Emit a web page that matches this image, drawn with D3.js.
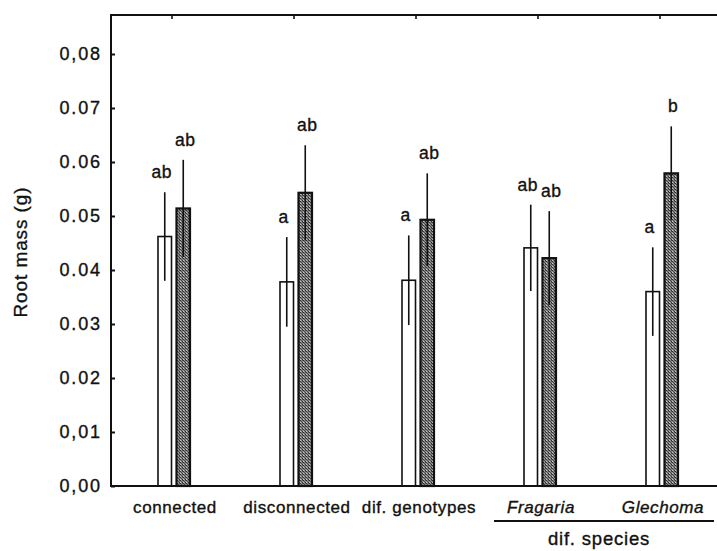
<!DOCTYPE html>
<html>
<head>
<meta charset="utf-8">
<script src="https://cdn.jsdelivr.net/npm/d3@7"></script>
<style>
  html, body { margin: 0; padding: 0; background: #fff; }
  svg { display: block; }
  text { font-family: "Liberation Sans", Arial, Helvetica, sans-serif; fill: #111; stroke: #111; stroke-width: 0.35px; }
</style>
</head>
<body>
<svg id="chart" width="717" height="551"></svg>
<script>
// ---- data ----
const categories = ["connected", "disconnected", "dif. genotypes", "Fragaria", "Glechoma"];
const italicCategories = ["Fragaria", "Glechoma"];
const series = ["white", "grey"];
const whiteMean = [0.0462, 0.0378, 0.0381, 0.0441, 0.0360];
const whiteSE   = [0.0082, 0.0083, 0.0083, 0.0080, 0.0082];
const greyMean  = [0.0514, 0.0543, 0.0493, 0.0422, 0.0579];
const greySE    = [0.0090, 0.0088, 0.0086, 0.0087, 0.0087];
const whiteLetters = ["ab", "a", "a", "ab", "a"];
const greyLetters  = ["ab", "ab", "ab", "ab", "b"];
const yTickValues = [0, 0.01, 0.02, 0.03, 0.04, 0.05, 0.06, 0.07, 0.08];
const yTickLabels = ["0,00", "0,01", "0.02", "0.03", "0.04", "0.05", "0.06", "0.07", "0,08"];
const groupLabel = "dif. species";
const groupMembers = ["Fragaria", "Glechoma"];
const yTitle = "Root mass (g)";

// ---- layout ----
const svg = d3.select("#chart");
const plotLeft = 111, plotTop = 15, plotBottom = 486;
const x = d3.scaleBand().domain(categories).range([113, 723]).padding(0);
const x1 = d3.scaleBand().domain(series).range([-16, 16]).paddingInner(0.27);
const y = d3.scaleLinear().domain([0, 0.08]).range([plotBottom, 54]);

// pattern for stippled grey bars
const defs = svg.append("defs");
const pat = defs.append("pattern").attr("id", "stipple")
  .attr("patternUnits", "userSpaceOnUse").attr("width", 3).attr("height", 3);
pat.append("rect").attr("width", 3).attr("height", 3).attr("fill", "#8e8e8e");
pat.append("rect").attr("x", 0).attr("y", 0).attr("width", 1).attr("height", 1).attr("fill", "#2e2e2e");
pat.append("rect").attr("x", 1).attr("y", 1).attr("width", 1).attr("height", 1).attr("fill", "#4a4a4a");
pat.append("rect").attr("x", 2).attr("y", 2).attr("width", 1).attr("height", 1).attr("fill", "#2e2e2e");
pat.append("rect").attr("x", 2).attr("y", 0).attr("width", 1).attr("height", 1).attr("fill", "#5a5a5a");
pat.append("rect").attr("x", 0).attr("y", 2).attr("width", 1).attr("height", 1).attr("fill", "#c4c4c4");

const rows = categories.map((c, i) => ([
  {cat: c, s: "white", m: whiteMean[i], se: whiteSE[i], letter: whiteLetters[i]},
  {cat: c, s: "grey", m: greyMean[i], se: greySE[i], letter: greyLetters[i]}
])).flat();

const cx = d => x(d.cat) + x.bandwidth() / 2 + x1(d.s);

// bars
svg.append("g").selectAll("rect").data(rows).join("rect")
  .attr("x", d => cx(d))
  .attr("y", d => y(d.m))
  .attr("width", x1.bandwidth())
  .attr("height", d => y(0) - y(d.m))
  .attr("fill", d => d.s === "white" ? "#fff" : "url(#stipple)")
  .attr("stroke", "#111")
  .attr("stroke-width", d => d.s === "white" ? 1.6 : 2.2);

// error bars
svg.append("g").selectAll("line").data(rows).join("line")
  .attr("x1", d => cx(d) + x1.bandwidth() / 2)
  .attr("x2", d => cx(d) + x1.bandwidth() / 2)
  .attr("y1", d => y(d.m - d.se))
  .attr("y2", d => y(d.m + d.se))
  .attr("stroke", "#111").attr("stroke-width", 1.6);

// significance letters
svg.append("g").selectAll("text").data(rows).join("text")
  .attr("x", d => cx(d) + x1.bandwidth() / 2 + (d.s === "white" ? -3 : 2))
  .attr("y", d => y(d.m + d.se) - 14)
  .attr("text-anchor", "middle")
  .attr("font-size", 17.5)
  .attr("letter-spacing", 0.6)
  .text(d => d.letter);

// frame lines
svg.append("line").attr("x1", plotLeft).attr("x2", 720).attr("y1", plotTop).attr("y2", plotTop)
  .attr("stroke", "#111").attr("stroke-width", 2);
svg.append("line").attr("x1", plotLeft).attr("x2", plotLeft).attr("y1", plotTop - 1).attr("y2", plotBottom + 1)
  .attr("stroke", "#111").attr("stroke-width", 2);
svg.append("line").attr("x1", plotLeft).attr("x2", 720).attr("y1", plotBottom).attr("y2", plotBottom)
  .attr("stroke", "#111").attr("stroke-width", 2);

// y axis (inward ticks)
const yAxis = d3.axisRight(y).tickValues(yTickValues).tickSize(4).tickFormat("");
const gy = svg.append("g").attr("transform", `translate(${plotLeft},0)`).call(yAxis);
gy.select(".domain").remove();
gy.selectAll(".tick line").attr("stroke", "#111").attr("stroke-width", 2);

svg.append("g").selectAll("text").data(yTickValues).join("text")
  .attr("x", 101.8)
  .attr("y", d => y(d))
  .attr("dy", "0.36em")
  .attr("text-anchor", "end")
  .attr("font-size", 18)
  .attr("letter-spacing", 1.8)
  .text((d, i) => yTickLabels[i]);

// top axis (inward ticks at category centres)
const topAxis = d3.axisBottom(x).tickSize(4).tickFormat("");
const gt = svg.append("g").attr("transform", `translate(-2,${plotTop})`).call(topAxis);
gt.select(".domain").remove();
gt.selectAll(".tick line").attr("stroke", "#111").attr("stroke-width", 1.6);

// x category labels
svg.append("g").selectAll("text").data(categories).join("text")
  .attr("x", d => x(d) + x.bandwidth() / 2 + 1)
  .attr("y", 513)
  .attr("text-anchor", "middle")
  .attr("font-size", 17)
  .attr("letter-spacing", 0.6)
  .attr("font-style", d => italicCategories.includes(d) ? "italic" : "normal")
  .text(d => d);

// group bracket
const gStart = x(groupMembers[0]) + 15;
const gEnd = x(groupMembers[groupMembers.length - 1]) + x.bandwidth() - 9;
svg.append("line").attr("x1", gStart).attr("x2", gEnd).attr("y1", 521).attr("y2", 521)
  .attr("stroke", "#111").attr("stroke-width", 1.8);
svg.append("text")
  .attr("x", x(groupMembers[1]) - 2)
  .attr("y", 545)
  .attr("text-anchor", "middle")
  .attr("font-size", 18.5)
  .attr("letter-spacing", 0.8)
  .text(groupLabel);

// y title
svg.append("text")
  .attr("transform", `translate(27,252) rotate(-90)`)
  .attr("text-anchor", "middle")
  .attr("font-size", 19)
  .attr("letter-spacing", 0.9)
  .text(yTitle);
</script>
</body>
</html>
